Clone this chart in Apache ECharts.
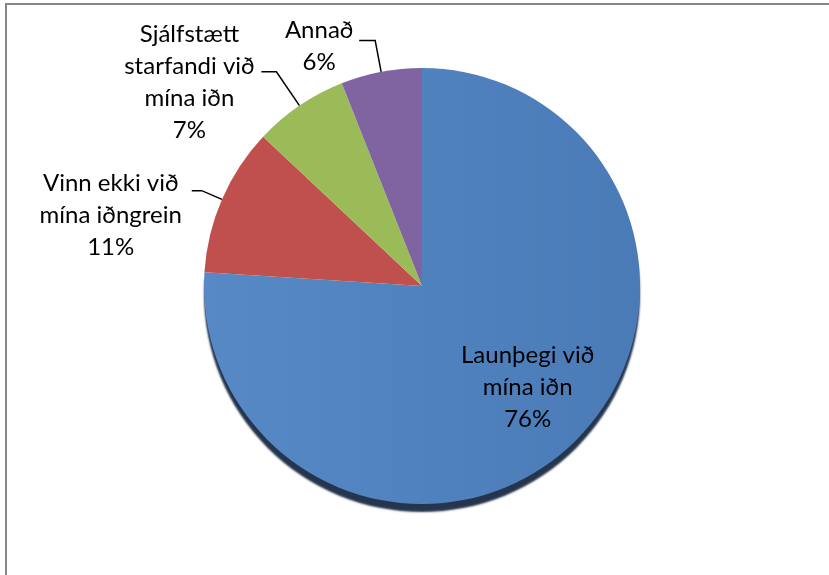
<!DOCTYPE html>
<html>
<head>
<meta charset="utf-8">
<script src="https://cdn.jsdelivr.net/npm/echarts@6/dist/echarts.min.js"></script>
<style>
  html, body { margin: 0; padding: 0; background: #fff; }
  #chart { width: 829px; height: 575px; }
</style>
</head>
<body>
<div id="chart"></div>
<script>
// flokkar og hlutföll (%)
const categories = [
  'Launþegi við\nmína iðn',
  'Vinn ekki við\nmína iðngrein',
  'Sjálfstætt\nstarfandi við\nmína iðn',
  'Annað'
]
const values = [76, 11, 7, 6]
const colors = ['#4f81bd', '#c0504d', '#9bbb59', '#8064a2']

const FONT = 'Lato'
const FONT_SIZE = 24
const LINE_H = 32

// hver lína miðjuð innan kassa af fastri breidd
const richFor = (w) => ({
  t: { width: w, align: 'center', fontFamily: FONT, fontSize: FONT_SIZE, lineHeight: LINE_H, color: '#000' }
})
const fmt = (p) => p.name.split('\n').concat([p.percent + '%']).map(s => '{t|' + s + '}').join('\n')

// stillingar á merkingum fyrir hverja sneið
const labelCfg = [
  { position: 'inside', padding: [40, 0, 0, 58], rich: richFor(150) },
  { position: 'outside', padding: [50, 0, 0, 0], rich: richFor(152) },
  { position: 'outside', padding: [20, 0, 0, 0], rich: richFor(134) },
  { position: 'outside', padding: [12, 0, 0, 0], rich: richFor(70) }
]
const lineCfg = [
  { show: false },
  { show: true, length: 22, length2: 10 },
  { show: true, length: 41, length2: 15 },
  { show: true, length: 32, length2: 16 }
]

const chart = echarts.init(document.getElementById('chart'))

const option = {
  animation: false,
  backgroundColor: '#fff',
  graphic: [
    {
      type: 'rect',
      shape: { x: 6, y: 4, width: 900, height: 700 },
      style: { fill: 'none', stroke: '#888', lineWidth: 2 },
      silent: true
    }
  ],
  series: [
    {
      type: 'pie',
      center: [422, 286],
      radius: 218,
      startAngle: 90,
      clockwise: true,
      avoidLabelOverlap: false,
      label: {
        formatter: fmt,
        distanceToLabelLine: 5
      },
      labelLine: {
        lineStyle: { color: '#000', width: 1.5 }
      },
      data: categories.map((name, i) => ({
        name: name,
        value: values[i],
        itemStyle: i === 0
          ? {
              color: {
                type: 'linear', x: 0, y: 0, x2: 1, y2: 0,
                colorStops: [{ offset: 0, color: '#5689c6' }, { offset: 1, color: '#4a7bb7' }]
              },
              shadowColor: 'rgba(25, 42, 68, 0.95)', shadowOffsetY: 8, shadowBlur: 2
            }
          : { color: colors[i] },
        label: labelCfg[i],
        labelLine: lineCfg[i]
      })),
      emphasis: { disabled: true }
    }
  ]
}

chart.setOption(option)
</script>
</body>
</html>
